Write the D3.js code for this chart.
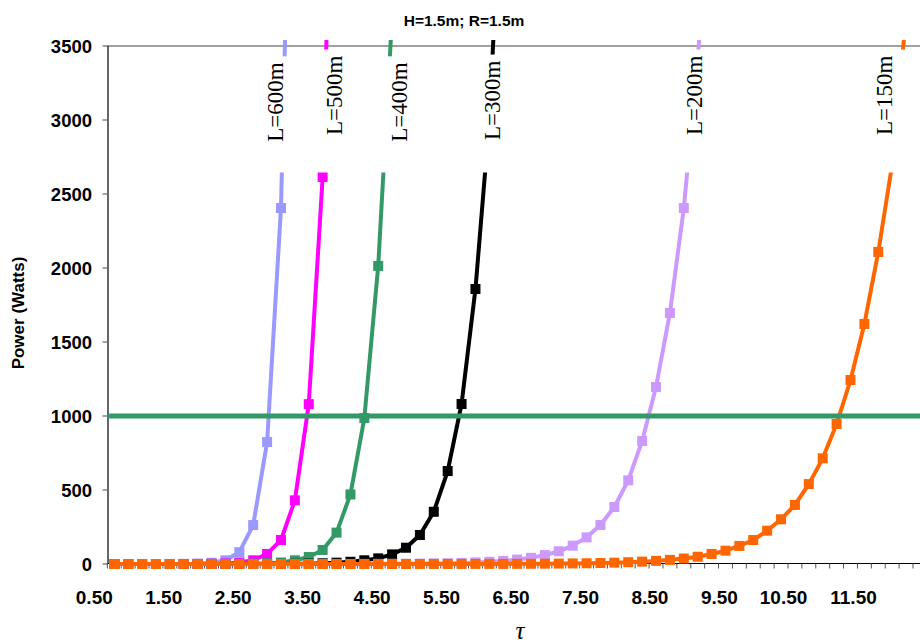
<!DOCTYPE html>
<html><head><meta charset="utf-8">
<script src="https://cdn.jsdelivr.net/npm/d3@7"></script>
<style>body{margin:0;background:#fff}svg{display:block}</style>
</head><body><svg id="c" width="920" height="644"></svg>
<script>
// ---------- data ----------
const tau = [0.5,0.7,0.9,1.1,1.3,1.5,1.7,1.9,2.1,2.3,2.5,2.7,2.9,3.1,3.3,3.5,3.7,3.9,4.1,4.3,
  4.5,4.7,4.9,5.1,5.3,5.5,5.7,5.9,6.1,6.3,6.5,6.7,6.9,7.1,7.3,7.5,7.7,7.9,8.1,8.3,
  8.5,8.7,8.9,9.1,9.3,9.5,9.7,9.9,10.1,10.3,10.5,10.7,10.9,11.1,11.3,11.5,11.7,11.9,12.1];
const xTickLabels = ["0.50","1.50","2.50","3.50","4.50","5.50","6.50","7.50","8.50","9.50","10.50","11.50"];
const xTickLabelTau = [0.5,1.5,2.5,3.5,4.5,5.5,6.5,7.5,8.5,9.5,10.5,11.5];
const yTicks = [0,500,1000,1500,2000,2500,3000,3500];
const chartTitle = "H=1.5m; R=1.5m";
const yTitle = "Power (Watts)";
const xTitle = "τ";
const seriesNames = ["L=600m","L=500m","L=400m","L=300m","L=200m","L=150m"];
const seriesColors = ["#9999FF","#FF00FF","#339966","#000000","#CC99FF","#FF6600"];

const p600 = [0,0,0,0,0.3,0.8,2.5,8,25,80,263,824,2405,6300];
const p500 = [0,0,0,0,0,0.2,0.5,1.5,4,10,25,68,162,430,1080,2615,6000];
const p400 = [0,0,0,0,0,0,0,0.2,0.5,1,2,5,10,25,47,95,212,470,986,2014,3700];
const p300 = [0,0,0,0,0,0,0,0,0,0,0.1,0.2,0.5,1.3,2.5,5,9,15,25,38,65,110,196,353,628,1081,1858,2996,4900];
const p200 = [0,0,0,0,0,0,0,0,0,0,0,0,0,0,0,0.2,0.3,0.4,0.6,0.9,1.3,1.8,2.6,3.7,5.2,7.4,10.5,15,21,
  30,42,60,86,124,180,264,385,565,831,1196,1696,2405,3400,4800];
const p150 = [0,0,0,0,0,0,0,0,0,0,0,0,0,0,0,0,0,0,0,0,0.1,0.1,0.2,0.2,0.3,0.4,0.5,0.7,0.9,1.2,
  1.6,2.2,2.9,3.8,5.1,6.8,9,12,16,21,28,37,49,68,90,122,162,225,302,399,
  540,714,946,1243,1622,2108,2700,3700];
const seriesValues = [p600,p500,p400,p300,p200,p150];
const thresholdValue = 1000;
const thresholdColor = "#339966";
// label anchors (tau, value) for the in-chart series labels
const labelTau = [2.933,3.774,4.710,6.054,8.958,11.694];
const labelValue = [2853,2899,2853,2865,2899,2899];

// ---------- layout ----------
const svg = d3.select("#c");
const x = d3.scaleLinear().domain([0.4, 12.2]).range([107.35, 926.9]);
const y = d3.scaleLinear().domain([0, 3500]).range([564, 46]);
const W = 920;

// top gridline at 3500
svg.append("line").attr("x1", x(0.4)).attr("x2", W).attr("y1", y(3500)).attr("y2", y(3500))
  .attr("stroke", "#808080").attr("stroke-width", 1.5);

// y axis
const yAxis = svg.append("g");
yAxis.append("line").attr("x1", 108).attr("x2", 108).attr("y1", y(3500)).attr("y2", y(0))
  .attr("stroke", "#000").attr("stroke-width", 1.2);
yAxis.selectAll("line.t").data(yTicks).enter().append("line").attr("class","t")
  .attr("x1", 102.5).attr("x2", 108).attr("y1", d => y(d)).attr("y2", d => y(d))
  .attr("stroke", "#666").attr("stroke-width", 1.2);
yAxis.selectAll("text").data(yTicks).enter().append("text")
  .attr("x", 92).attr("y", d => y(d) + 6.8)
  .attr("text-anchor", "end")
  .attr("font-family", "'Liberation Sans', Arial, sans-serif").attr("font-weight", "bold")
  .attr("font-size", 18.5).text(d => d);

// x axis
const xTicks = d3.range(0, 60).map(i => 0.4 + i * 0.2);
const xAxis = svg.append("g");
xAxis.append("line").attr("x1", x(0.4)).attr("x2", W).attr("y1", 563.5).attr("y2", 563.5)
  .attr("stroke", "#000").attr("stroke-width", 1.2);
xAxis.selectAll("line.t").data(xTicks).enter().append("line").attr("class","t")
  .attr("x1", d => x(d)).attr("x2", d => x(d)).attr("y1", 563.5).attr("y2", 568.5)
  .attr("stroke", "#555").attr("stroke-width", 1);
xAxis.selectAll("text").data(xTickLabels).enter().append("text")
  .attr("x", (d, i) => x(xTickLabelTau[i]) - 1.5).attr("y", 604)
  .attr("text-anchor", "end")
  .attr("font-family", "'Liberation Sans', Arial, sans-serif").attr("font-weight", "bold")
  .attr("font-size", 19).text(d => d);

// clip
svg.append("defs").append("clipPath").attr("id", "pc").append("rect")
  .attr("x", 107.35).attr("y", 40).attr("width", W - 107).attr("height", 545);

const plot = svg.append("g").attr("clip-path", "url(#pc)");
const line = d3.line().x((d, i) => x(tau[i])).y(d => y(d));

seriesValues.forEach((vals, si) => {
  const g = plot.append("g");
  g.append("path").attr("d", line(vals)).attr("fill", "none")
    .attr("stroke", seriesColors[si]).attr("stroke-width", 4)
    .attr("stroke-linejoin", "round").attr("stroke-linecap", "round");
  g.selectAll("rect").data(vals).enter().append("rect")
    .attr("x", (d, i) => x(tau[i]) - 5).attr("y", d => y(d) - 5)
    .attr("width", 10).attr("height", 10).attr("fill", seriesColors[si]);
});

// threshold line
plot.append("line").attr("x1", x(0.4)).attr("x2", W)
  .attr("y1", y(thresholdValue)).attr("y2", y(thresholdValue))
  .attr("stroke", thresholdColor).attr("stroke-width", 5);

// series labels with white boxes
const lab = svg.append("g");
seriesNames.forEach((name, i) => {
  const bx = x(labelTau[i]), by = y(labelValue[i]);
  const box = lab.append("rect").attr("fill", "#fff");
  const t = lab.append("text")
    .attr("transform", `translate(${bx},${by}) rotate(-90)`)
    .attr("font-family", "'Liberation Serif', 'Times New Roman', serif")
    .attr("font-size", 23).attr("fill", "#000").text(name);
  const len = t.node().getComputedTextLength();
  const top = by - len - 6;
  box.attr("x", bx - 26).attr("width", 43).attr("y", top).attr("height", 172.5 - top);
});

// titles
svg.append("text").attr("x", 464).attr("y", 26).attr("text-anchor", "middle")
  .attr("font-family", "'Liberation Sans', Arial, sans-serif").attr("font-weight", "bold")
  .attr("font-size", 15.5).text(chartTitle);
svg.append("text").attr("transform", "translate(24,313) rotate(-90)").attr("text-anchor", "middle")
  .attr("font-family", "'Liberation Sans', Arial, sans-serif").attr("font-weight", "bold")
  .attr("font-size", 17).text(yTitle);
svg.append("text").attr("x", 520).attr("y", 638.5).attr("text-anchor", "middle")
  .attr("font-family", "'Liberation Serif', 'Times New Roman', serif").attr("font-style", "italic")
  .attr("font-size", 25).text(xTitle);
</script></body></html>
